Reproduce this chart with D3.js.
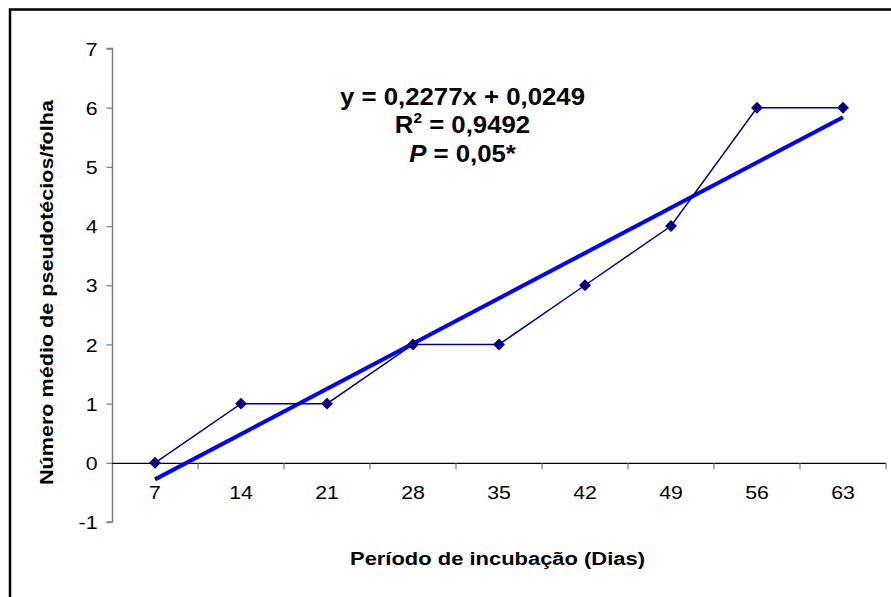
<!DOCTYPE html>
<html><head><meta charset="utf-8">
<script src="https://cdn.jsdelivr.net/npm/d3@7"></script>
<style>body{margin:0;background:#fff}svg{display:block}text{font-family:"Liberation Sans",Arial,sans-serif}</style>
</head><body>
<svg id="c" width="891" height="597"></svg>
<script>
const categories = ["7","14","21","28","35","42","49","56","63"];
const values = [0,1,1,2,2,3,4,6,6];
const yTicks = [-1,0,1,2,3,4,5,6,7];
const trendEnds = [-0.28, 5.84];
const eqLines = ["y = 0,2277x + 0,0249","R2 = 0,9492","P = 0,05*"];

const svg = d3.select("#c");
svg.append("rect").attr("x",10).attr("y",9.5).attr("width",900).attr("height",600)
  .attr("fill","none").attr("stroke","#000").attr("stroke-width",2.5);

const x = d3.scaleBand().domain(categories).range([112,886]);
const y = d3.scaleLinear().domain([-1,7]).range([522,48.5]);
const stretch = 1.15;
function widen(sel){ sel.each(function(){ this.setAttribute("textLength", this.getComputedTextLength()*stretch); this.setAttribute("lengthAdjust","spacingAndGlyphs"); }); }

// y axis
const ya = svg.append("g").attr("transform","translate(112.5,0)")
  .call(d3.axisLeft(y).tickValues(yTicks).tickSize(6).tickPadding(6).tickFormat(d=>String(d)));
ya.select(".domain").attr("stroke","#808080").attr("stroke-width",1.5).attr("d","M-6,"+y(-1)+"H0V"+y(7)+"H-6");
ya.selectAll(".tick line").attr("stroke","#808080").attr("stroke-width",1.3);
ya.selectAll(".tick text").attr("font-size",18.5).attr("font-family","Liberation Sans, Arial, sans-serif")
  .attr("fill","#000").attr("dy","0.36em").attr("x",-15).call(widen);

// x axis at y=0
const xa = svg.append("g").attr("transform","translate(0,"+(y(0)+0.5)+")");
xa.append("line").attr("x1",112).attr("x2",886).attr("stroke","#000").attr("stroke-width",1.3);
const bounds = categories.map(c=>x(c)).concat([886]);
xa.selectAll("line.t").data(bounds.slice(1)).enter().append("line")
  .attr("x1",d=>d).attr("x2",d=>d).attr("y1",0).attr("y2",6).attr("stroke","#808080").attr("stroke-width",1.3);
xa.selectAll("text").data(categories).enter().append("text")
  .attr("x",d=>x(d)+x.bandwidth()/2).attr("y",36).attr("text-anchor","middle")
  .attr("font-size",18.5).text(d=>d).call(widen);

const cx = d=>x(d)+x.bandwidth()/2;
// trend line
svg.append("line").attr("x1",cx(categories[0])).attr("x2",cx(categories[categories.length-1]))
  .attr("y1",y(trendEnds[0])).attr("y2",y(trendEnds[1]))
  .attr("stroke","#0000ff").attr("stroke-width",4);

// data line
const line = d3.line().x((d,i)=>cx(categories[i])).y(d=>y(d));
svg.append("path").attr("d",line(values)).attr("fill","none").attr("stroke","#000080").attr("stroke-width",1.5);
svg.selectAll("path.m").data(values).enter().append("path")
  .attr("d",d3.symbol(d3.symbolDiamond2,90)())
  .attr("transform",(d,i)=>"translate("+cx(categories[i])+","+y(d)+")")
  .attr("fill","#000080");

// equation
const eq = svg.append("g").attr("transform","translate(462.5,0) scale(1.097,1)")
  .attr("font-weight","bold").attr("font-size",23.5).attr("text-anchor","middle");
eq.append("text").attr("x",0).attr("y",105).text(eqLines[0]);
const t2 = eq.append("text").attr("x",0).attr("y",133.5);
t2.append("tspan").text("R");
t2.append("tspan").attr("font-size",14).attr("dy",-10).text("2");
t2.append("tspan").attr("dy",10).text(eqLines[1].slice(2));
const t3 = eq.append("text").attr("x",0).attr("y",162);
t3.append("tspan").attr("font-style","italic").text("P");
t3.append("tspan").text(eqLines[2].slice(1));

// axis titles
svg.append("text").attr("x",497.5).attr("y",565).attr("text-anchor","middle")
  .attr("font-weight","bold").attr("font-size",18).attr("textLength",295).attr("lengthAdjust","spacingAndGlyphs")
  .text("Período de incubação (Dias)");
svg.append("text").attr("transform","translate(53,292.5) rotate(-90)").attr("text-anchor","middle")
  .attr("font-weight","bold").attr("font-size",18.5).attr("textLength",385).attr("lengthAdjust","spacingAndGlyphs")
  .text("Número médio de pseudotécios/folha");
</script>
</body></html>
